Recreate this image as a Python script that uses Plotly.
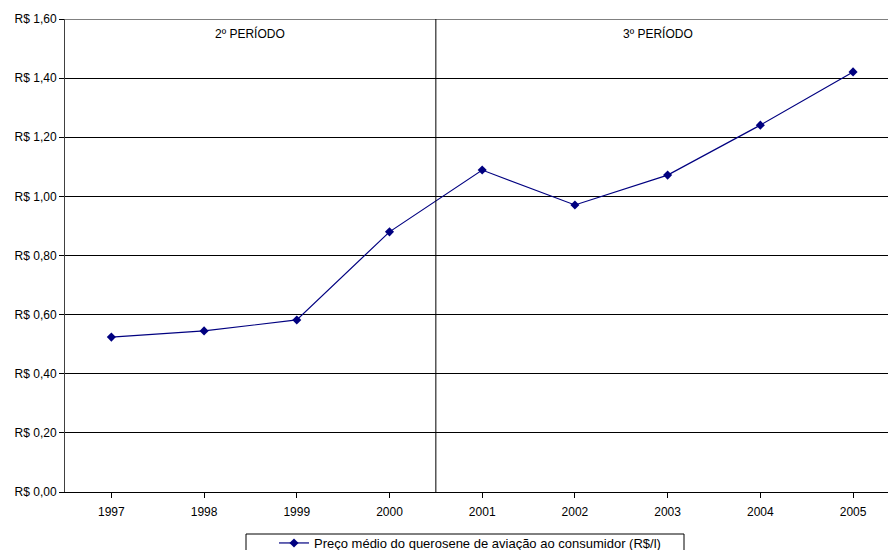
import plotly.graph_objects as go

anos = ["1997", "1998", "1999", "2000", "2001", "2002", "2003", "2004", "2005"]
preco_querosene = [0.524, 0.545, 0.582, 0.880, 1.089, 0.971, 1.072, 1.241, 1.421]
valores_eixo_y = [0.0, 0.2, 0.4, 0.6, 0.8, 1.0, 1.2, 1.4, 1.6]
rotulos_eixo_y = ["R$ 0,00", "R$ 0,20", "R$ 0,40", "R$ 0,60", "R$ 0,80",
                  "R$ 1,00", "R$ 1,20", "R$ 1,40", "R$ 1,60"]
periodos = ["2º PERÍODO", "3º PERÍODO"]
posicao_periodos = [1.5, 5.9]
divisa_periodos = 3.5

fonte = dict(family="Liberation Sans, Arial, sans-serif", size=12, color="#000000")
fonte_legenda = dict(family="Liberation Sans, Arial, sans-serif", size=13, color="#000000")

fig = go.Figure()
fig.add_trace(go.Scatter(
    x=list(range(len(anos))),
    y=preco_querosene,
    mode="lines+markers",
    name="Preço médio do querosene de aviação ao consumidor (R$/l)",
    line=dict(color="#000080", width=1.2),
    marker=dict(symbol="diamond", size=7, color="#000080"),
))

W, H = 888, 550
ml, mr, mt, mb = 65, 0, 19, 58
pw, ph = W - ml - mr, H - mt - mb

def px_x(p):
    return (p - ml) / pw

def px_y(p):
    return (H - mb - p) / ph

fig.update_layout(
    width=W, height=H,
    margin=dict(l=ml, r=mr, t=mt, b=mb, pad=0, autoexpand=False),
    paper_bgcolor="white", plot_bgcolor="white",
    font=fonte,
    showlegend=True,
    legend=dict(
        orientation="h",
        xref="container", yref="container",
        x=274 / W, xanchor="left",
        y=(H - 528) / H, yanchor="top",
        bgcolor="rgba(0,0,0,0)",
        font=fonte_legenda,
        itemwidth=30,
    ),
    xaxis=dict(
        tickmode="array",
        tickvals=list(range(len(anos))),
        ticktext=anos,
        tickson="boundaries",
        ticks="outside", ticklen=5, tickcolor="#000000",
        ticklabelstandoff=4,
        range=[-0.5, 8.377],
        showgrid=False, zeroline=False,
        showline=True, linecolor="#000000", linewidth=1,
        fixedrange=True,
    ),
    yaxis=dict(
        tickmode="array",
        tickvals=valores_eixo_y,
        ticktext=rotulos_eixo_y,
        range=[0, 1.6],
        ticks="outside", ticklen=5, tickcolor="#000000",
        showgrid=True, gridcolor="#000000", gridwidth=1,
        zeroline=False,
        showline=True, linecolor="#404040", linewidth=1,
        fixedrange=True,
    ),
)

# linha superior da área de plotagem
fig.add_shape(type="line", xref="paper", yref="y", x0=0, x1=1, y0=1.6, y1=1.6,
              line=dict(color="#808080", width=2))
# divisória entre os períodos
fig.add_shape(type="line", xref="x", yref="y", x0=divisa_periodos, x1=divisa_periodos,
              y0=0, y1=1.6, line=dict(color="#000000", width=1))
# moldura da legenda
fig.add_shape(type="rect", xref="paper", yref="paper",
              x0=px_x(246), x1=px_x(684), y0=px_y(556), y1=px_y(534),
              line=dict(color="#000000", width=1), fillcolor="rgba(0,0,0,0)")

for texto, pos in zip(periodos, posicao_periodos):
    fig.add_annotation(x=pos, y=px_y(33), xref="x", yref="paper", text=texto,
                       showarrow=False, font=fonte, xanchor="center", yanchor="middle")

fig.write_html("out.html")
